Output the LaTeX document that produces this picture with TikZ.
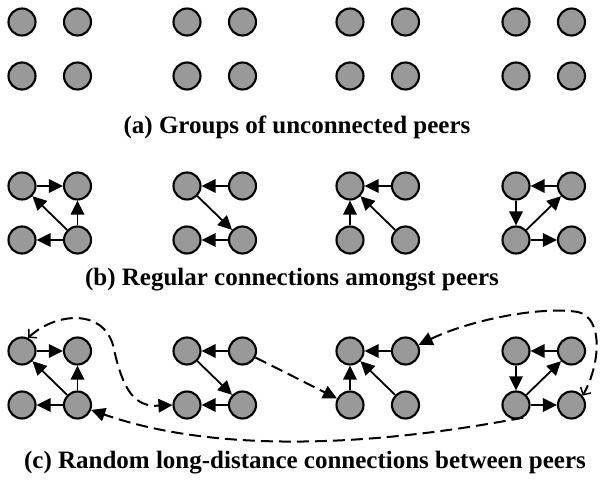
\documentclass[tikz,border=0pt]{standalone}
\usepackage{fontspec}
\setmainfont{Liberation Serif}
\usetikzlibrary{arrows.meta}
\definecolor{peergray}{RGB}{153,153,153}
\begin{document}
\begin{tikzpicture}[x=1pt,y=-1pt,
  peer/.style={circle,draw=black,fill=peergray,line width=2.1pt,minimum size=27pt,inner sep=0pt},
  link/.style={line width=1.8pt,-{Triangle[length=14pt,width=13.5pt]}},
  far/.style={line width=2pt,dash pattern=on 12pt off 6pt},
  bigtip/.tip={Triangle[length=14pt,width=13.5pt]},
  thintip/.tip={Straight Barb[length=5.5pt,width=12pt,line width=1.5pt]},
  captext/.style={font=\bfseries\fontsize{25}{29}\selectfont,inner sep=0pt}
]
\useasboundingbox (0,0) rectangle (603,489);
\foreach \g/\x in {1/22,2/187,3/350,4/516} {
  \foreach \r/\y in {a/22,b/186,c/351} {
    \node[peer] (\r\g tl) at (\x,\y) {};
    \node[peer] (\r\g tr) at (\x+55.5,\y) {};
    \node[peer] (\r\g bl) at (\x,\y+54) {};
    \node[peer] (\r\g br) at (\x+55.5,\y+54) {};
  }
}
\foreach \r in {b,c} {
  % group 1
  \draw[link] (\r1tl) -- (\r1tr);
  \draw[link] (\r1br) -- (\r1bl);
  \draw[link] (\r1br) -- (\r1tl);
  \draw[link] (\r1br) -- (\r1tr);
  % group 2
  \draw[link] (\r2tr) -- (\r2tl);
  \draw[link] (\r2tl) -- (\r2br);
  \draw[link] (\r2br) -- (\r2bl);
  % group 3
  \draw[link] (\r3tr) -- (\r3tl);
  \draw[link] (\r3bl) -- (\r3tl);
  \draw[link] (\r3br) -- (\r3tl);
  % group 4
  \draw[link] (\r4tr) -- (\r4tl);
  \draw[link] (\r4tl) -- (\r4bl);
  \draw[link] (\r4bl) -- (\r4tr);
  \draw[link] (\r4bl) -- (\r4br);
}
% long-distance connections
\draw[far,thintip-bigtip] (c1tl.65) .. controls (55,313) and (102,308) .. (113,345)
   .. controls (123,392) and (135,407) .. (c2bl.west);
\draw[far,-bigtip] (c2tr) -- (c3bl);
\draw[far,bigtip-thintip] (c3tr.25) .. controls (470,320) and (540,306) .. (578,312)
   .. controls (604,318) and (600,365) .. (c4br.40);
\draw[far,-bigtip] (c4bl.-60) .. controls (380,445) and (220,455) .. (c1br.-20);
% captions
\node[captext] (capa) at (297,127) {(a) Groups of unconnected peers};
\node[captext] (capb) at (292,280) {(b) Regular connections amongst peers};
\node[captext] (capc) at (305,463) {(c) Random long-distance connections between peers};
\end{tikzpicture}
\end{document}
